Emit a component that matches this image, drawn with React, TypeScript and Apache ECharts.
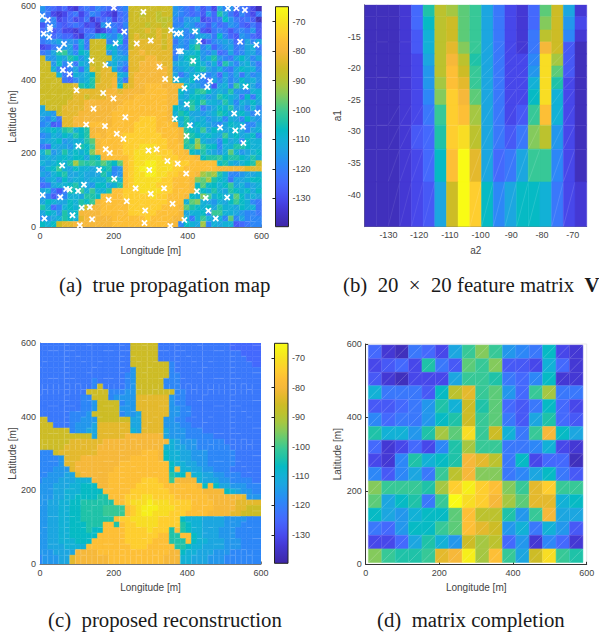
import React, { useEffect, useRef } from "react";
import * as echarts from "echarts";

// Signal level codes: a = -140 dBm ... z = -65 dBm, 3 dB per letter.
const parula = [
  "#3e26a8","#4030bc","#4438d4","#4747ea","#4759f6","#4469fd","#3a78fb","#2d87f7","#2397ec","#1ca6e0",
  "#12b1d6","#06bac4","#1fc2a8","#37c897","#5ccb78","#84ca5c","#a5c742","#bcc22e","#cdbc26","#e4b92d",
  "#f6b83a","#fdbf36","#fece2f","#f8dd24","#f6ee1a","#f9fb15",
];

const trueMapRows = [
  "igfefdcfgf hgfeghssss ssssihgfhe gdjhiegfdb",
  "hgdcdfgdfh gedcfgssrs srssihgfge ifmjgehfdg",
  "ifhdefdegc efgdfgssss srrrhgiijd efgligfgeb",
  "eghfefgfde cihgfhsssr ssrshhjigg ehfgihfege",
  "fhefddceff cdfhegssst stssijhjje dghgeghgie",
  "hifgffdcgh jlihkgstss ststijhgjj iglhfeihfe",
  "ghijhihkgs sshilfsttt ttstgihjkd fhijifgjhj",
  "deghijfkgs sslkhgsttt ttsthihlnh jfhijghjkg",
  "ghjmnjhlks ssikihttut ttttgjkkli hjfgjghjjh",
  "siikjmliks ssskjjtttu uttthjlmli kmihgjljhj",
  "ssilhjgkjs ssjkihttuu uuttjkkmlk ikgmjhjkig",
  "sskhfhjgkt sttkhfttuu uuutijkjlm jikhgjlkkh",
  "ssskgekjkl stttkjtuuu uuutjgikki hifjhjgjhi",
  "ssssgfhjkm sttujgtuuu uuutkkjlih fjhjhiljki",
  "sssssstmlm tttulstuuv vvuuuuljjh iejkhnkljh",
  "sssssstttt ttuutuuuuv vvvuuljkmn ljkjmiihkk",
  "ssssssttst ttuuuuuvvv vvvuukjllk ijmlkjglgk",
  "ssssstttuu uuuuuvvvvv vvvuujlmln kkjmkhkjlj",
  "jsssttttuu uuuuvvvvvv vvvulkjnkg ijlkmijhkh",
  "jjistttuuu uuuvvvvvvv vvvukmljji jkmljkljhi",
  "ihjgttuuuu uuuvvvvvww wvvulkmkjk ijkhkjhlji",
  "hiefttuuuv vvuvvvvwww wvvvukmjlk jihjlkkhhj",
  "jklkmnklmu uuvvvvvwww wvvvvumlkn jlkjkljhjk",
  "hikjlkmlmu vuvvvwwwww wwvvvuomlk lkjnkljklh",
  "ijklijkkmo uvvvvwwwww wwwvvunlpk jjhljkhlkk",
  "gfkjjikmln uvvvvwwwxx xwwvvvmnqn llhkkmmlkk",
  "knijmklklp uvvvvwwxxx xwwwvvulkm kjikokijkl",
  "jkjklklljm luvvvvwxxx xxwwwvvvul mmnlmmlkmk",
  "kjklkmqnmn momlovwxxy yxxxwwwvvv vvlmkjklms",
  "iklnkjlkkj klmhivwxyy yxxxwwvvvv vvuuuuuttt",
  "jiklmjjkjj jmkhivwxxy yxxwwvvvuq pqmkhhijjk",
  "hjkiljkkjk kkmnkvwxxx xxwwvvvupo qmlkgjjkll",
  "fgjkklmkji lljkmvwxxx xwwwvvvulo llklnjkijk",
  "jkgegmlnkn kkmvvwwwxx xxwwvvvuml kmkjmlkljl",
  "iheghkkjmm lvvvvwwwww xwwvvvulkp nklkkoljkj",
  "jlkjjlkmln uvvvvvwwww wwwvvvkopk jikjlnlkhg",
  "mkfhklkmsu uvvvvvwwww wwvvvuomlk ljmkkjlkkg",
  "jlkimkluuu uvvvvvwwww wvvvvujkkl hnnkkjihhg",
  "hijkmlktuu uuuvvvvvvw vvvvuukgkn kjkhohjhhh",
  "lklsttuuuu uuuvvvvvvv vvvuuhlkjq hkjkkefghh",
];

const sensorLon = [200,280,6,21,509,532,555,27,27,10,25,185,228,355,370,381,420,431,65,205,262,300,542,586,52,376,382,139,415,81,177,324,62,80,339,369,424,442,461,453,391,557,99,171,199,398,145,526,589,231,365,125,176,406,488,550,529,208,397,226,551,104,178,189,294,316,345,373,60,160,296,396,201,119,71,80,103,259,336,425,300,7,55,186,235,359,449,507,135,113,285,456,88,12,141,476,391,283,108,353];
const sensorLat = [595,584,573,562,594,594,589,543,536,525,516,548,530,534,525,526,531,504,497,499,498,506,503,495,482,477,477,452,451,441,440,435,426,415,402,401,406,410,396,380,377,381,371,364,349,333,321,308,310,298,294,278,274,276,270,272,262,253,247,239,228,220,211,201,208,211,179,172,167,155,155,145,131,115,103,102,98,105,105,97,90,87,81,74,70,63,79,80,54,52,45,44,32,23,21,23,19,11,5,3];

const featureRows = [
  "bbbcfmrqonjgdcfosjc",
  "bbbcflrsonjgdcfpsid",
  "bbbcekrsonjgdcgrshc",
  "bbbcekrtpnjgdcguseb",
  "bbbcdjrurmjgddhxqeb",
  "bbbcdirvsnjgddixoeb",
  "bbbcdiqvtnjgddkxmdb",
  "bbbcdhpwuojgddlxkdb",
  "bbbcdgnwvqjgdenvkdb",
  "bbbcefmwxrjgegpridb",
  "bbbcdflvztjfgjnnhdb",
  "bbbcdejszwlhjllkgdc",
];
const a1Edges = [-9.9,-11.8,-13.9,-15.8,-17.7,-19.6,-21.4,-23.3,-25.8,-29,-32.8,-38,-45.1];
const a2Edges = [-137.7,-133.9,-130.1,-126.3,-122.5,-118.7,-114.9,-111.1,-107.3,-103.5,-99.7,-95.9,-92.1,-88.3,-84.5,-80.7,-76.9,-73.1,-69.3,-65.5];

const reconstructionRows = [
  "gggggggggg gggggggsss ssgggggggg gggggfffff",
  "gggggggggg gggggggsss ssgggggggg gggggfffff",
  "gggggggggg gggggggsss ssgggggggg gggggggfff",
  "gggggggggg gggggggsss ssgggggggg ggggggggff",
  "gggggggggg gggggggsss sssshggggg gggggggggf",
  "gggggggggg gggggggiss sssshggggg gggggggggg",
  "gggggggggg gggggghiss sssshhgggg gggggggggg",
  "gggggggggg hggggghiss ssshhhgggg gggggggggg",
  "gggggggggg hsgggghiss ssshhhgggg gggggggggg",
  "gggggggggs ssshhhiiss ssssshhggg gggggggggg",
  "gggggggghh ssshiiiitt ttttihhggg gggggggggg",
  "gggggggghh isssshiitt ttttihhggg gggggggggg",
  "gggggggghh issssiiitt ttttiihhgg gggggggggg",
  "gggggghhhi ssssshiijt ttttiihhgg gggggggggg",
  "ssgggghhii issssssjjt tttiihhggg gggggggggg",
  "sssggghiii jttttttjjt tttiiihhgg gggggggggg",
  "sssssshiij jttttttkjt tttjiiihhh gggggggggg",
  "ssssssssss jtttttuuuu uuujiiihhh hhgggggggg",
  "sssssstttt ttuuuuuuuu uuuukjiiih hhhhgggggg",
  "sssssttttt tuuuuuuuuu uuukkjjiih hhhhhggggg",
  "hhhstttttt tuuuuuuuuv vvulkkjjii ihhhhhgggg",
  "hhhhitttuu uuuuuuuvvv vvulkkjjii ihhhhhgggg",
  "hhhhittuuu uuuuuvvvvv vvvvlkkjji ihhhhhgggg",
  "hhhiiituuu uuuuvvvvvv vvvvlukkjj iihhhggggg",
  "hhiiijjtuu uuuvvvvvvv vvvvmllukk jjiihhhggg",
  "hiiijjjkkk uuuvvvvvvw wwvvnuuuuk jjjiihhhhg",
  "iiijjjkkll luuvvvvvww wwwvvvvvvu luljjiiihh",
  "iiijjkkkll llvvvvvwww wwwwvvvvvv uuuulkjiih",
  "iiijjkklll lmmvvvwwwx xwwwwvvvvv vuuuuuutii",
  "iijjkkllmm mmmmvvwxxx yxxxwwwwvv vvuuuutttt",
  "iijjkkllmm mmnnnnvwxy yyxxxwwwvv vvuuuuttss",
  "iijjkkllmm mmnnnnvwxy yxxxwwwvvv vuuuuttsss",
  "iijjkkllmm mmmmvwwxxx xxwwwwlkkk jjjjiiiihh",
  "iijjkklllm mmvvmvwwxx xxwwwwmlkk jjjjiiihhh",
  "iijjkklllm llvvvvwwww xwwwmvmlkk jjjiiihhhh",
  "iijjkkllll lvvvvvwwww wwvvmmvvlk jjjiiihhhh",
  "iijjkkklll vvvvvvwwww wvvvmmmvlk kjjjiiihhh",
  "iijjjkkkkv vvvvvvvwww vvvvvmmlkk jjjjiiihhh",
  "iiijjjjuuu uvvvvvvvvv vvvvuulkkj jjiiihhhhh",
  "hiiijjtuuu uuuvvvvvvv vvvuuukkjj jiiihhhhhh",
];

const completionRows = [
  "fcbgfdjnpnihgldc",
  "defdmgeonpeedkfc",
  "ecbdddjnnmgfhlcc",
  "kgggelrtnoifnqgg",
  "eefgimksmofeglfd",
  "hfggilmsnogejmfe",
  "mkkimqoxnskgnulj",
  "fcdfdhmqnngghkdc",
  "dchmklmutrgldffb",
  "hehjgnruppghjlge",
  "pnnnmqwywvpntwnn",
  "ojlmgnzxwuqottkl",
  "ljikllovrrminujj",
  "gfillnovtsikgkie",
  "ddfjmkisqrfichfc",
  "pnmmntuyqvnjsxnm",
];

const colorbarTicks = [-70, -80, -90, -100, -110, -120, -130];
const a1Ticks = [-15, -20, -25, -30, -35, -40];
const a2Ticks = [-130, -120, -110, -100, -90, -80, -70];

const levelOf = (ch: string) => -140 + 3 * (ch.charCodeAt(0) - 97);
const colorOf = (v: number) => parula[Math.max(0, Math.min(25, Math.round((v + 140) / 3)))];
const clean = (rows: string[]) => rows.map((r) => r.replace(/ /g, ""));

type Cell = number[]; // x0, x1, y0, y1, dB, row, col

function uniformCells(rows: string[], x0: number, dx: number, yTop: number, dy: number, extendEnd: boolean, xMax = 600): Cell[] {
  const out: Cell[] = [];
  const rr = clean(rows);
  rr.forEach((row, r) => {
    row.split("").forEach((ch, c) => {
      const left = x0 + c * dx;
      const right = extendEnd && c === row.length - 1 ? xMax : left + dx;
      const top = yTop - r * dy;
      const bottom = extendEnd && r === rr.length - 1 ? 0 : top - dy;
      out.push([left, right, bottom, top, levelOf(ch), r, c]);
    });
  });
  return out;
}

const featureCells: Cell[] = [];
featureRows.forEach((row, r) => {
  row.split("").forEach((ch, c) => {
    featureCells.push([a2Edges[c], a2Edges[c + 1], a1Edges[r + 1], a1Edges[r], levelOf(ch), r, c]);
  });
});

const GRAY = "#444444";
const SANS = "Liberation Sans, Arial, sans-serif";
const WHITE = (o: number) => `rgba(255,255,255,${o})`;

function cellSeries(gridIndex: number, data: Cell[], kind: "a" | "b" | "c" | "d") {
  return {
    type: "custom",
    xAxisIndex: gridIndex,
    yAxisIndex: gridIndex,
    clip: true,
    silent: true,
    data,
    encode: { x: [0, 1], y: [2, 3] },
    renderItem: (_p: any, api: any) => {
      const [x0, x1, y0, y1, v, r, c] = [0, 1, 2, 3, 4, 5, 6].map((i) => api.value(i));
      const bl = api.coord([x0, y0]);
      const tr = api.coord([x1, y1]);
      const fill = colorOf(v);
      const children: any[] = [
        {
          type: "rect",
          shape: { x: bl[0], y: tr[1], width: tr[0] - bl[0], height: bl[1] - tr[1] },
          style: { fill, stroke: fill, lineWidth: 0.5 },
        },
      ];
      const addLine = (x1p: number, y1p: number, x2p: number, y2p: number, o: number) =>
        children.push({
          type: "line",
          shape: { x1: x1p, y1: y1p, x2: x2p, y2: y2p },
          style: { stroke: WHITE(o), lineWidth: 0.6 },
        });
      const L = bl[0], R = tr[0], T = tr[1], B = bl[1];
      if (kind === "d") {
        addLine(L, B, R, T, 0.32);
        addLine(L, T, R, T, 0.15);
        addLine(L, T, L, B, 0.15);
      } else if (kind === "a") {
        if ((r * r + 2 * c) % 3 !== 0) addLine(L, B, R, T, 0.22);
        if ((r * 13 + c * c * 3 + (c >> 1) * r) % 4 === 0) addLine(L, T, R, T, 0.25);
        if ((c * 11 + r * r * 5 + (r >> 1) * c) % 4 === 0) addLine(L, T, L, B, 0.25);
      } else if (kind === "c") {
        if ((r * 13 + c * c * 3 + (c >> 1) * r) % 5 === 0) addLine(L, T, R, T, 0.28);
        if ((c * 11 + r * r * 5 + (r >> 1) * c) % 5 === 0) addLine(L, T, L, B, 0.28);
      } else {
        if (r % 3 === 0 && c % 2 === 1) addLine(L, T, R, T, 0.15);
        if (r >= 3 && c >= 9 && c <= 17 && c !== 15) addLine(L, B, R, T, 0.22);
        if (r >= 8 && c >= 2 && c <= 5) addLine(L, B, R, T, 0.15);
      }
      return { type: "group", children };
    },
  };
}

function lonLatAxes(gridIndex: number, dark: boolean) {
  const lineStyle = { color: dark ? "#333333" : "#777777", width: 1 };
  const tick = { show: true, inside: true, length: 2.5, lineStyle };
  const label = { color: GRAY, fontSize: 9, fontFamily: SANS, margin: 4, hideOverlap: false };
  const x = {
    type: "value", gridIndex, min: 0, max: 600, interval: 200,
    name: "Longitude [m]", nameLocation: "middle", nameGap: 18.5,
    nameTextStyle: { color: GRAY, fontSize: 10, fontFamily: SANS },
    axisLine: { show: true, onZero: false, lineStyle }, axisTick: tick, axisLabel: label, splitLine: { show: false },
  };
  const y = {
    type: "value", gridIndex, min: 0, max: 600, interval: 200,
    name: "Latitude [m]", nameLocation: "middle", nameGap: 22.5,
    nameTextStyle: { color: GRAY, fontSize: 10, fontFamily: SANS },
    axisLine: { show: true, onZero: false, lineStyle }, axisTick: tick, axisLabel: label, splitLine: { show: false },
  };
  return { x, y };
}

function colorbarAxes(gridIndex: number) {
  const x = { type: "value", gridIndex, min: 0, max: 1, show: false };
  const y = {
    type: "value", gridIndex, min: -139.7, max: -64.9, position: "right",
    axisLine: { show: false },
    axisTick: { show: true, inside: true, length: 3, lineStyle: { color: "#222222" }, customValues: colorbarTicks },
    axisLabel: { color: GRAY, fontSize: 9, fontFamily: SANS, margin: 4, customValues: colorbarTicks },
    splitLine: { show: false },
  };
  return { x, y };
}

function colorbarSeries(gridIndex: number) {
  return {
    type: "custom",
    xAxisIndex: gridIndex,
    yAxisIndex: gridIndex,
    silent: true,
    data: [[0, 1, -139.7, -64.9]],
    encode: { x: [0, 1], y: [2, 3] },
    renderItem: (_p: any, api: any) => {
      const bl = api.coord([api.value(0), api.value(2)]);
      const tr = api.coord([api.value(1), api.value(3)]);
      const stops = parula.map((color, i) => ({ offset: i / 25, color }));
      return {
        type: "rect",
        shape: { x: bl[0], y: tr[1], width: tr[0] - bl[0], height: bl[1] - tr[1] },
        style: {
          fill: new echarts.graphic.LinearGradient(0, 1, 0, 0, stops),
          stroke: "#222222",
          lineWidth: 1,
        },
      };
    },
  };
}

const CAPTION = "Liberation Serif, Times New Roman, serif";
const caption = (x: number, y: number, rich: any) => ({
  type: "text",
  x,
  y,
  silent: true,
  style: { ...rich, fill: "#1a1a1a", font: `20.8px ${CAPTION}`, verticalAlign: "middle", align: "left" },
});

export default function App() {
  const ref = useRef<HTMLDivElement>(null);
  useEffect(() => {
    if (!ref.current) return;
    const chart = echarts.init(ref.current, undefined, { renderer: "svg" });
    const a = lonLatAxes(0, false);
    const cbA = colorbarAxes(1);
    const c = lonLatAxes(3, false);
    const cbC = colorbarAxes(4);
    const d = lonLatAxes(5, true);
    const bLine = { color: "#777777", width: 1 };
    const bLabel = { color: GRAY, fontSize: 9, fontFamily: SANS, margin: 4 };
    const bx = {
      type: "value", gridIndex: 2, min: -137.7, max: -65.5, name: "a2", nameLocation: "middle", nameGap: 18.5,
      nameTextStyle: { color: GRAY, fontSize: 10, fontFamily: SANS },
      axisLine: { show: true, onZero: false, lineStyle: bLine },
      axisTick: { show: true, inside: true, length: 2.5, lineStyle: bLine, customValues: a2Ticks },
      axisLabel: { ...bLabel, customValues: a2Ticks }, splitLine: { show: false },
    };
    const by = {
      type: "value", gridIndex: 2, min: -45.1, max: -9.9, name: "a1", nameLocation: "middle", nameGap: 22.5,
      nameTextStyle: { color: GRAY, fontSize: 10, fontFamily: SANS },
      axisLine: { show: true, onZero: false, lineStyle: bLine },
      axisTick: { show: true, inside: true, length: 2.5, lineStyle: bLine, customValues: a1Ticks },
      axisLabel: { ...bLabel, customValues: a1Ticks }, splitLine: { show: false },
    };
    const sensors = sensorLon.map((x, i) => [x, sensorLat[i]]);
    chart.setOption({
      animation: false,
      backgroundColor: "#ffffff",
      grid: [
        { left: 40, top: 6, width: 221.5, height: 221 },
        { left: 275.5, top: 6.7, width: 13, height: 220 },
        { left: 364.7, top: 4.7, width: 222, height: 222 },
        { left: 40, top: 343, width: 221, height: 221 },
        { left: 274.5, top: 343.3, width: 13.5, height: 220 },
        { left: 365.7, top: 344, width: 221, height: 220.3, show: true, borderColor: "#e8e8e8", borderWidth: 1 },
      ],
      xAxis: [a.x, cbA.x, bx, c.x, cbC.x, d.x],
      yAxis: [a.y, cbA.y, by, c.y, cbC.y, d.y],
      series: [
        cellSeries(0, uniformCells(trueMapRows, 0, 15, 600, 15, false), "a"),
        {
          type: "scatter", xAxisIndex: 0, yAxisIndex: 0, clip: false, silent: true, data: sensors,
          symbol: "path://M2 0L5 3L8 0L10 2L7 5L10 8L8 10L5 7L2 10L0 8L3 5L0 2Z",
          symbolSize: 6.5, itemStyle: { color: "#ffffff", opacity: 1 },
        },
        colorbarSeries(1),
        cellSeries(2, featureCells, "b"),
        cellSeries(3, uniformCells(reconstructionRows, -9, 15, 609, 15, true), "c"),
        colorbarSeries(4),
        cellSeries(5, uniformCells(completionRows, 7.2, 36.4, 597, 37, false), "d"),
      ],
      graphic: [
        caption(59, 284, { text: "(a)  true propagation map" }),
        caption(343, 284, {
          text: "(b)  20  ×  20 feature matrix  {v|V}",
          rich: { v: { font: `bold 20.8px ${CAPTION}`, fill: "#1a1a1a" } },
        }),
        caption(48, 619, { text: "(c)  proposed reconstruction" }),
        caption(377, 619, { text: "(d)  matrix completion" }),
      ],
    });
    return () => chart.dispose();
  }, []);
  return <div ref={ref} style={{ position: "absolute", left: 0, top: 0, width: 599, height: 636 }} />;
}
